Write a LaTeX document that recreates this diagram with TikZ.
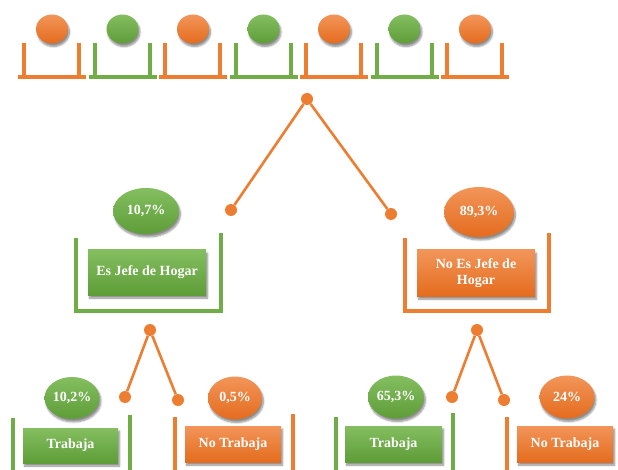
\documentclass[tikz,border=0pt]{standalone}
\usepackage{fontspec}
\setmainfont{Liberation Serif}
\usetikzlibrary{shapes.geometric,shadows,shadows.blur}
\definecolor{org}{HTML}{ED7D31}
\definecolor{orgT}{HTML}{F29559}
\definecolor{orgB}{HTML}{E46C1E}
\definecolor{grn}{HTML}{70AD47}
\definecolor{grnT}{HTML}{84BE60}
\definecolor{grnB}{HTML}{5E9D38}
\tikzset{
  x=1pt, y=-1pt,
  shd/.style={blur shadow={shadow xshift=1.5pt, shadow yshift=-3pt, shadow blur steps=6, shadow opacity=45}},
  oball/.style={ellipse, inner sep=0pt, draw=none, top color=orgT, bottom color=orgB, shd,
                text=white, font=\fontsize{14}{15}\selectfont\bfseries},
  gball/.style={ellipse, inner sep=0pt, draw=none, top color=grnT, bottom color=grnB, shd,
                text=white, font=\fontsize{14}{15}\selectfont\bfseries},
  obox/.style={rectangle, inner sep=0pt, draw=none, top color=orgT, bottom color=orgB, shd,
                text=white, align=center, font=\fontsize{14}{16}\selectfont\bfseries},
  gbox/.style={rectangle, inner sep=0pt, draw=none, top color=grnT, bottom color=grnB, shd,
                text=white, align=center, font=\fontsize{14}{16}\selectfont\bfseries},
  oline/.style={draw=org, line width=4pt},
  gline/.style={draw=grn, line width=4pt},
  vline/.style={draw=org, line width=2.6pt},
  dot/.style={circle, fill=org, inner sep=0pt, minimum size=12pt},
}
\begin{document}
\begin{tikzpicture}
\useasboundingbox (0,0) rectangle (618,470);
% top row
\foreach \i/\b/\l in {0/oball/oline,1/gball/gline,2/oball/oline,3/gball/gline,4/oball/oline,5/gball/gline,6/oball/oline}{
  \pgfmathsetmacro\cx{52+70.5*\i}
  \node[\b, minimum width=32pt, minimum height=29pt] (t\i) at (\cx,29) {};
  \draw[\l] (\cx-28,43) -- (\cx-28,77);
  \draw[\l] (\cx+27,43) -- (\cx+27,77);
  \draw[\l] (\cx-34,77) -- (\cx+34,77);
}
% main V
\node[dot] (v0) at (307,99) {};
\node[dot] (v0l) at (231,210) {};
\node[dot] (v0r) at (391,214) {};
\draw[vline] (v0l) -- (v0) -- (v0r);
% middle left
\node[gball, minimum width=66pt, minimum height=46pt] (p1) at (146,211) {10,7\%};
\node[gbox, minimum width=118pt, minimum height=45pt] (b1) at (147,272.5) {Es Jefe de Hogar};
\draw[gline] (76,238) -- (76,313);
\draw[gline] (221,233) -- (221,313);
\draw[gline] (74,311) -- (223,311);
% middle right
\node[oball, minimum width=70pt, minimum height=50pt] (p2) at (479,212) {89,3\%};
\node[obox, minimum width=118pt, minimum height=46pt] (b2) at (476,273) {No Es Jefe de\\Hogar};
\draw[oline] (405,238) -- (405,313);
\draw[oline] (549,233) -- (549,313);
\draw[oline] (403,311) -- (551,311);
% bottom left V
\node[dot] (v1) at (150,330) {};
\node[dot] (v1l) at (125,397) {};
\node[dot] (v1r) at (178,400) {};
\draw[vline] (v1l) -- (v1) -- (v1r);
% bottom right V
\node[dot] (v2) at (477,330) {};
\node[dot] (v2l) at (452,397) {};
\node[dot] (v2r) at (504,400) {};
\draw[vline] (v2l) -- (v2) -- (v2r);
% bottom groups
\node[gball, minimum width=55pt, minimum height=42pt] (p3) at (72,398) {10,2\%};
\node[gbox, minimum width=95pt, minimum height=35pt] (b3) at (70.5,445.5) {Trabaja};
\draw[gline] (13,418) -- (13,472);
\draw[gline] (130,415) -- (130,472);

\node[oball, minimum width=54pt, minimum height=43pt] (p4) at (235,398) {0,5\%};
\node[obox, minimum width=96pt, minimum height=36pt] (b4) at (233,444) {No Trabaja};
\draw[oline] (175,417) -- (175,472);
\draw[oline] (293,414) -- (293,472);

\node[gball, minimum width=56pt, minimum height=43pt] (p5) at (396,397) {65,3\%};
\node[gbox, minimum width=97pt, minimum height=36pt] (b5) at (393.5,444) {Trabaja};
\draw[gline] (336,417) -- (336,472);
\draw[gline] (453,413) -- (453,472);

\node[oball, minimum width=55pt, minimum height=43pt] (p6) at (567,397) {24\%};
\node[obox, minimum width=96pt, minimum height=36pt] (b6) at (565,444) {No Trabaja};
\draw[oline] (507,417) -- (507,472);
\end{tikzpicture}
\end{document}
